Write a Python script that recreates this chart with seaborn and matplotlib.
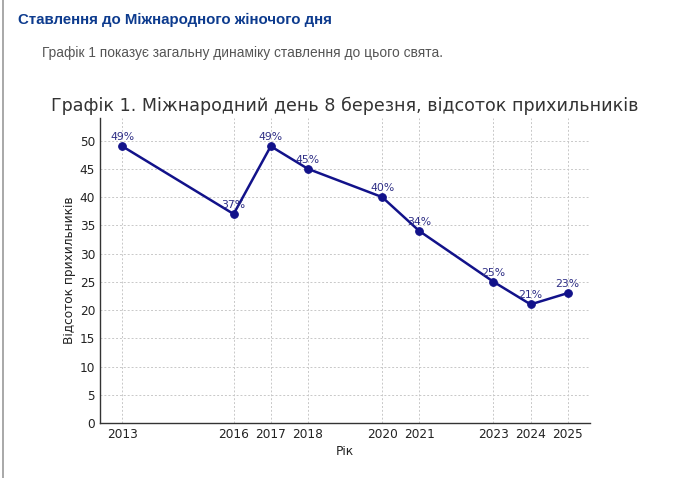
import matplotlib
matplotlib.use("Agg")
import matplotlib.pyplot as plt
import seaborn as sns
import pandas as pd

years = [2013, 2016, 2017, 2018, 2020, 2021, 2023, 2024, 2025]
support = [49, 37, 49, 45, 40, 34, 25, 21, 23]
y_ticks = [0, 5, 10, 15, 20, 25, 30, 35, 40, 45, 50]

heading = "Ставлення до Міжнародного жіночого дня"
paragraph = "Графік 1 показує загальну динаміку ставлення до цього свята."
chart_title = "Графік 1. Міжнародний день 8 березня, відсоток прихильників"
x_label = "Рік"
y_label = "Відсоток прихильників"

sns.set_style("white")
plt.rcParams["font.family"] = ["DejaVu Sans"]

df = pd.DataFrame({"year": years, "support": support})

fig = plt.figure(figsize=(6.8, 4.78), dpi=100)
fig.patch.set_facecolor("white")
ax = fig.add_axes([100 / 680, 1 - 423 / 478, 490 / 680, 305 / 478])

sns.lineplot(data=df, x="year", y="support", ax=ax, color="#12128a",
             marker="o", markersize=5.5, linewidth=1.8,
             markeredgecolor="#12128a")

for x, y in zip(years, support):
    ax.annotate(f"{y}%", (x, y), xytext=(0, 3), textcoords="offset points",
                ha="center", va="bottom", fontsize=7.8, color="#2e2e85")

ax.set_ylim(0, 54)
ax.set_yticks(y_ticks)
ax.set_xticks(years)
ax.set_xticklabels([str(y) for y in years])
ax.margins(x=0.05)
ax.tick_params(direction="in", length=4, width=0.9, labelsize=8.7,
               colors="#333333", labelcolor="#222222")
ax.grid(True, linestyle=(0, (2, 2)), color="#c8c8c8", linewidth=0.7)
for s in ["top", "right"]:
    ax.spines[s].set_visible(False)
for s in ["left", "bottom"]:
    ax.spines[s].set_color("#333333")
    ax.spines[s].set_linewidth(1.0)
ax.set_xlabel(x_label, fontsize=8.7, color="#222222", labelpad=3)
ax.set_ylabel(y_label, fontsize=8.7, color="#222222", labelpad=3)

fig.text(345 / 680, 1 - 106 / 478, chart_title, ha="center", va="center",
         fontsize=12.6, color="#333333")
fig.text(18 / 680, 1 - 20 / 478, heading, ha="left", va="center",
         fontsize=10.8, fontweight="bold", color="#0d3b8e",
         family=["Liberation Sans", "DejaVu Sans"])
fig.text(42 / 680, 1 - 53 / 478, paragraph, ha="left", va="center",
         fontsize=9.9, color="#555555",
         family=["Liberation Sans", "DejaVu Sans"])

fig.add_artist(plt.Line2D([2.5 / 680, 2.5 / 680], [0, 1],
                          transform=fig.transFigure, color="#9a9a9a",
                          linewidth=1.2))

fig.savefig("out.png", dpi=100, facecolor="white")
